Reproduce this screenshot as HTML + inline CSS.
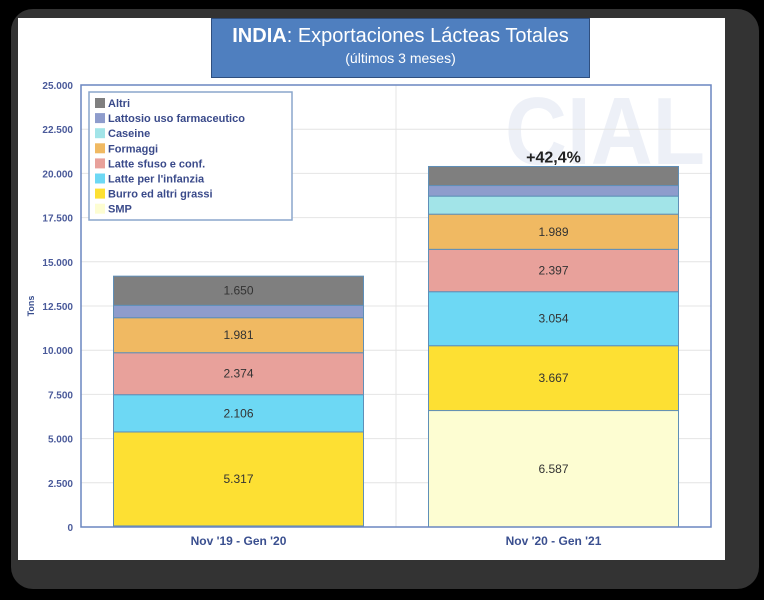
<!DOCTYPE html>
<html><head><meta charset="utf-8"><style>
body{margin:0;background:#000;width:764px;height:600px;overflow:hidden;font-family:"Liberation Sans",sans-serif}
#frame{position:absolute;left:11px;top:9px;width:748px;height:580px;background:#333;border-radius:22px}
#white{position:absolute;left:18px;top:18px;width:707px;height:542px;background:#fff}
#title{position:absolute;left:211px;top:18px;width:377px;height:58px;background:#4f7fbf;border:1px solid #2f4f7f;color:#fff;text-align:center;font-family:"Liberation Sans",sans-serif}
</style></head><body>
<div id="frame"></div>
<div id="white"></div>
<svg width="764" height="600" style="position:absolute;left:0;top:0" id="chart">
<text x="505" y="164" font-size="96" font-weight="bold" fill="#edf0f7" font-family="Liberation Sans" textLength="200" lengthAdjust="spacingAndGlyphs">CIAL</text>
<g id="grid"></g><g id="bars"></g><g id="axes"></g>
</svg>
<div id="title"><div style="font-size:20px;margin-top:6px"><b>INDIA</b>: Exportaciones Lácteas Totales</div><div style="font-size:14px;margin-top:2px">(últimos 3 meses)</div></div>
<script>
const categories=["Nov '19 - Gen '20","Nov '20 - Gen '21"];
const seriesNames=["SMP","Burro ed altri grassi","Latte per l'infanzia","Latte sfuso e conf.","Formaggi","Caseine","Lattosio uso farmaceutico","Altri"];
const smp=[60,6587];
const burro=[5317,3667];
const infanzia=[2106,3054];
const sfuso=[2374,2397];
const formaggi=[1981,1989];
const caseine=[0,1020];
const lattosio=[700,600];
const altri=[1650,1077];
const labelShown=[[false,true],[true,true],[true,true],[true,true],[true,true],[false,false],[false,false],[true,false]];
const ticks=[0,2500,5000,7500,10000,12500,15000,17500,20000,22500,25000];
const colors=["#fdfdd2","#fde033","#6dd8f4","#e8a19b","#f0b962","#a2e4e8","#8e9ccc","#7f7f7f"];
const series=[smp,burro,infanzia,sfuso,formaggi,caseine,lattosio,altri];
const NS="http://www.w3.org/2000/svg";
const X0=81,X1=711,Y0=527,Y1=85;
const y=v=>Y0-(v/25000)*(Y0-Y1);
const band=(X1-X0)/categories.length;
const xc=i=>X0+band*(i+0.5);
function mk(tag,attrs,parent,txt){const e=document.createElementNS(NS,tag);for(const k in attrs)e.setAttribute(k,attrs[k]);if(txt!==undefined)e.textContent=txt;document.getElementById(parent).appendChild(e);return e;}
const fmt=v=>v.toLocaleString('de-DE');
ticks.forEach(t=>{
 const l=mk('line',{x1:X0,x2:X1,y1:y(t),y2:y(t),stroke:'#e4e4e4','stroke-width':1},'grid');
 
 
 const tx=mk('text',{x:X0-8,y:y(t)+4,'text-anchor':'end','font-size':10,'font-weight':'bold',fill:'#4a5a9a'},'axes',fmt(t));
 
 
});
mk('line',{x1:(X0+X1)/2,x2:(X0+X1)/2,y1:Y1,y2:Y0,stroke:'#e4e4e4'},'grid');
const fr=mk('rect',{x:X0,y:Y1,width:X1-X0,height:Y0-Y1,fill:'none',stroke:'#6a86c0','stroke-width':1.5},'axes');


const bw=250;
categories.forEach((c,i)=>{
 let base=0;
 series.forEach((s,j)=>{
  const v=s[i];
  if(v>0){
   const r=mk('rect',{x:xc(i)-bw/2,y:y(base+v),width:bw,height:y(base)-y(base+v),fill:colors[j],stroke:'#5f8fb8','stroke-width':1},'bars');
   
   
   if(labelShown[j][i]){
    const t=mk('text',{x:xc(i),y:(y(base)+y(base+v))/2+4,'text-anchor':'middle','font-size':12,fill:'#333'},'bars',fmt(v));
    
    
   }
  }
  base+=v;
 });
 const xl=mk('text',{x:xc(i),y:Y0+18,'text-anchor':'middle','font-size':12,'font-weight':'bold',fill:'#3a4f8f'},'axes',c);
 
 
});
const tot1=series.reduce((a,s)=>a+s[1],0);
const pct=mk('text',{x:xc(1),y:y(tot1)-4,'text-anchor':'middle','font-size':16,'font-weight':'bold',fill:'#222'},'bars','+42,4%');


const yt=mk('text',{x:34,y:306,'text-anchor':'middle','font-size':9,'font-weight':'bold',fill:'#3a4f8f',transform:'rotate(-90 34 306)'},'axes','Tons');


const lg=mk('rect',{x:89,y:92,width:203,height:128,fill:'#fff',stroke:'#8aa6cc','stroke-width':1.5},'axes');


for(let k=7;k>=0;k--){
 const row=7-k;const yy=106+row*15.1;
 const sw=mk('rect',{x:95,y:yy-8,width:10,height:10,fill:colors[k]},'axes');
 
 
 const lt=mk('text',{x:108,y:yy+1,'font-size':11,'font-weight':'bold',fill:'#3a4a8a'},'axes',seriesNames[k]);
 
 
}
</script>
</body></html>
